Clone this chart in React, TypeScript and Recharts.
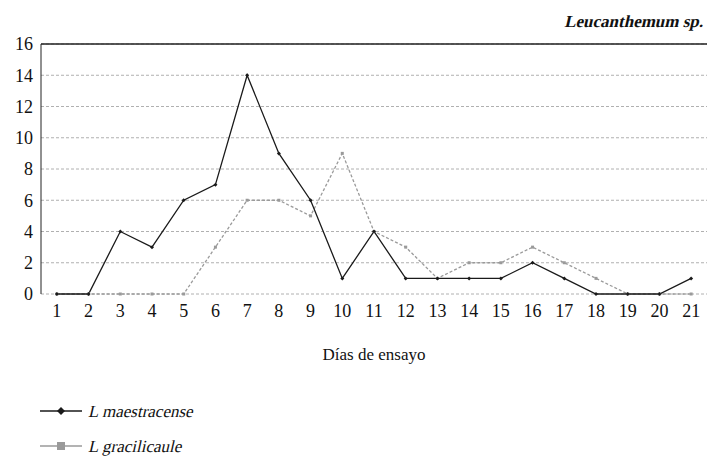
import { LineChart, Line, XAxis, YAxis, CartesianGrid, ReferenceLine } from 'recharts';

const DAYS = [1, 2, 3, 4, 5, 6, 7, 8, 9, 10, 11, 12, 13, 14, 15, 16, 17, 18, 19, 20, 21];
const MAESTRACENSE = [0, 0, 4, 3, 6, 7, 14, 9, 6, 1, 4, 1, 1, 1, 1, 2, 1, 0, 0, 0, 1];
const GRACILICAULE = [0, 0, 0, 0, 0, 3, 6, 6, 5, 9, 4, 3, 1, 2, 2, 3, 2, 1, 0, 0, 0];
const Y_TICKS = [0, 2, 4, 6, 8, 10, 12, 14, 16];
const BAND_EDGES = [0.5, 1.5, 2.5, 3.5, 4.5, 5.5, 6.5, 7.5, 8.5, 9.5, 10.5, 11.5, 12.5, 13.5, 14.5, 15.5, 16.5, 17.5, 18.5, 19.5, 20.5, 21.5];

const data = DAYS.map((day, i) => ({
  day,
  maestracense: MAESTRACENSE[i],
  gracilicaule: GRACILICAULE[i],
}));

const FONT = 'Liberation Serif';
const BLACK = '#1a1a1a';
const GREY = '#9a9a9a';
// the serif italic face is missing here, so italics are slanted by hand
const SLANT = 'skewX(-13)';

function DiamondDot(props: any) {
  const { cx, cy, index } = props;
  if (cx == null || cy == null) return <g key={`dm-${index}`} />;
  return (
    <path key={`dm-${index}`} d={`M${cx},${cy - 2} L${cx + 2},${cy} L${cx},${cy + 2} L${cx - 2},${cy} Z`} fill={BLACK} />
  );
}

function SquareDot(props: any) {
  const { cx, cy, index } = props;
  if (cx == null || cy == null) return <g key={`sq-${index}`} />;
  return <rect key={`sq-${index}`} x={cx - 1.5} y={cy - 1.5} width={3} height={3} fill={GREY} />;
}

export default function App() {
  return (
    <div style={{ position: 'absolute', left: 0, top: 0, width: 707, height: 468, background: '#fff' }}>
      <LineChart width={707} height={468} data={data} margin={{ top: 44, right: 0, left: 0, bottom: 0 }}>
        <CartesianGrid vertical={false} stroke="#b0b0b0" strokeDasharray="3 2" />
        <XAxis
          xAxisId="edges"
          type="number"
          dataKey="day"
          domain={[0.5, 21.5]}
          ticks={BAND_EDGES}
          tick={false}
          tickSize={6}
          height={0}
          stroke="#222"
          allowDataOverflow
        />
        <XAxis
          type="number"
          dataKey="day"
          domain={[0.5, 21.5]}
          ticks={DAYS}
          interval={0}
          tickLine={false}
          axisLine={false}
          tickMargin={4}
          height={174}
          tick={{ fontFamily: FONT, fontSize: 18, fill: '#111' }}
          label={{
            value: 'Días de ensayo',
            position: 'insideTop',
            offset: 54,
            style: { fontFamily: FONT, fontSize: 17, fill: '#111' },
          }}
        />
        <YAxis
          domain={[0, 16]}
          ticks={Y_TICKS}
          interval={0}
          width={41}
          tickLine={false}
          tickMargin={2}
          stroke="#222"
          tick={{ fontFamily: FONT, fontSize: 18, fill: '#111' }}
        />
        <ReferenceLine y={16} stroke="#222" strokeWidth={1.5} />
        <Line
          dataKey="gracilicaule"
          stroke={GREY}
          strokeWidth={1.3}
          strokeDasharray="3 2"
          dot={SquareDot}
          activeDot={false}
          isAnimationActive={false}
        />
        <Line
          dataKey="maestracense"
          stroke={BLACK}
          strokeWidth={1.3}
          dot={DiamondDot}
          activeDot={false}
          isAnimationActive={false}
        />
      </LineChart>
      <svg width={707} height={468} style={{ position: 'absolute', left: 0, top: 0, pointerEvents: 'none' }}>
        {/* title */}
        <g transform={`translate(703,27) ${SLANT}`}>
          <text x={0} y={0} textAnchor="end" fontFamily={FONT} fontSize={17} fontWeight="bold" fill="#111">
            Leucanthemum sp.
          </text>
        </g>
        {/* legend */}
        <line x1={40} x2={82} y1={411} y2={411} stroke={BLACK} strokeWidth={1.3} />
        <path d="M61,407 L65,411 L61,415 L57,411 Z" fill={BLACK} />
        <g transform={`translate(88,417) ${SLANT}`}>
          <text x={0} y={0} fontFamily={FONT} fontSize={17} fill="#111">
            L maestracense
          </text>
        </g>
        <line x1={40} x2={82} y1={446} y2={446} stroke={GREY} strokeWidth={1.6} />
        <rect x={57} y={442} width={8} height={8} fill={GREY} />
        <g transform={`translate(88,452) ${SLANT}`}>
          <text x={0} y={0} fontFamily={FONT} fontSize={17} fill="#111">
            L gracilicaule
          </text>
        </g>
      </svg>
    </div>
  );
}
